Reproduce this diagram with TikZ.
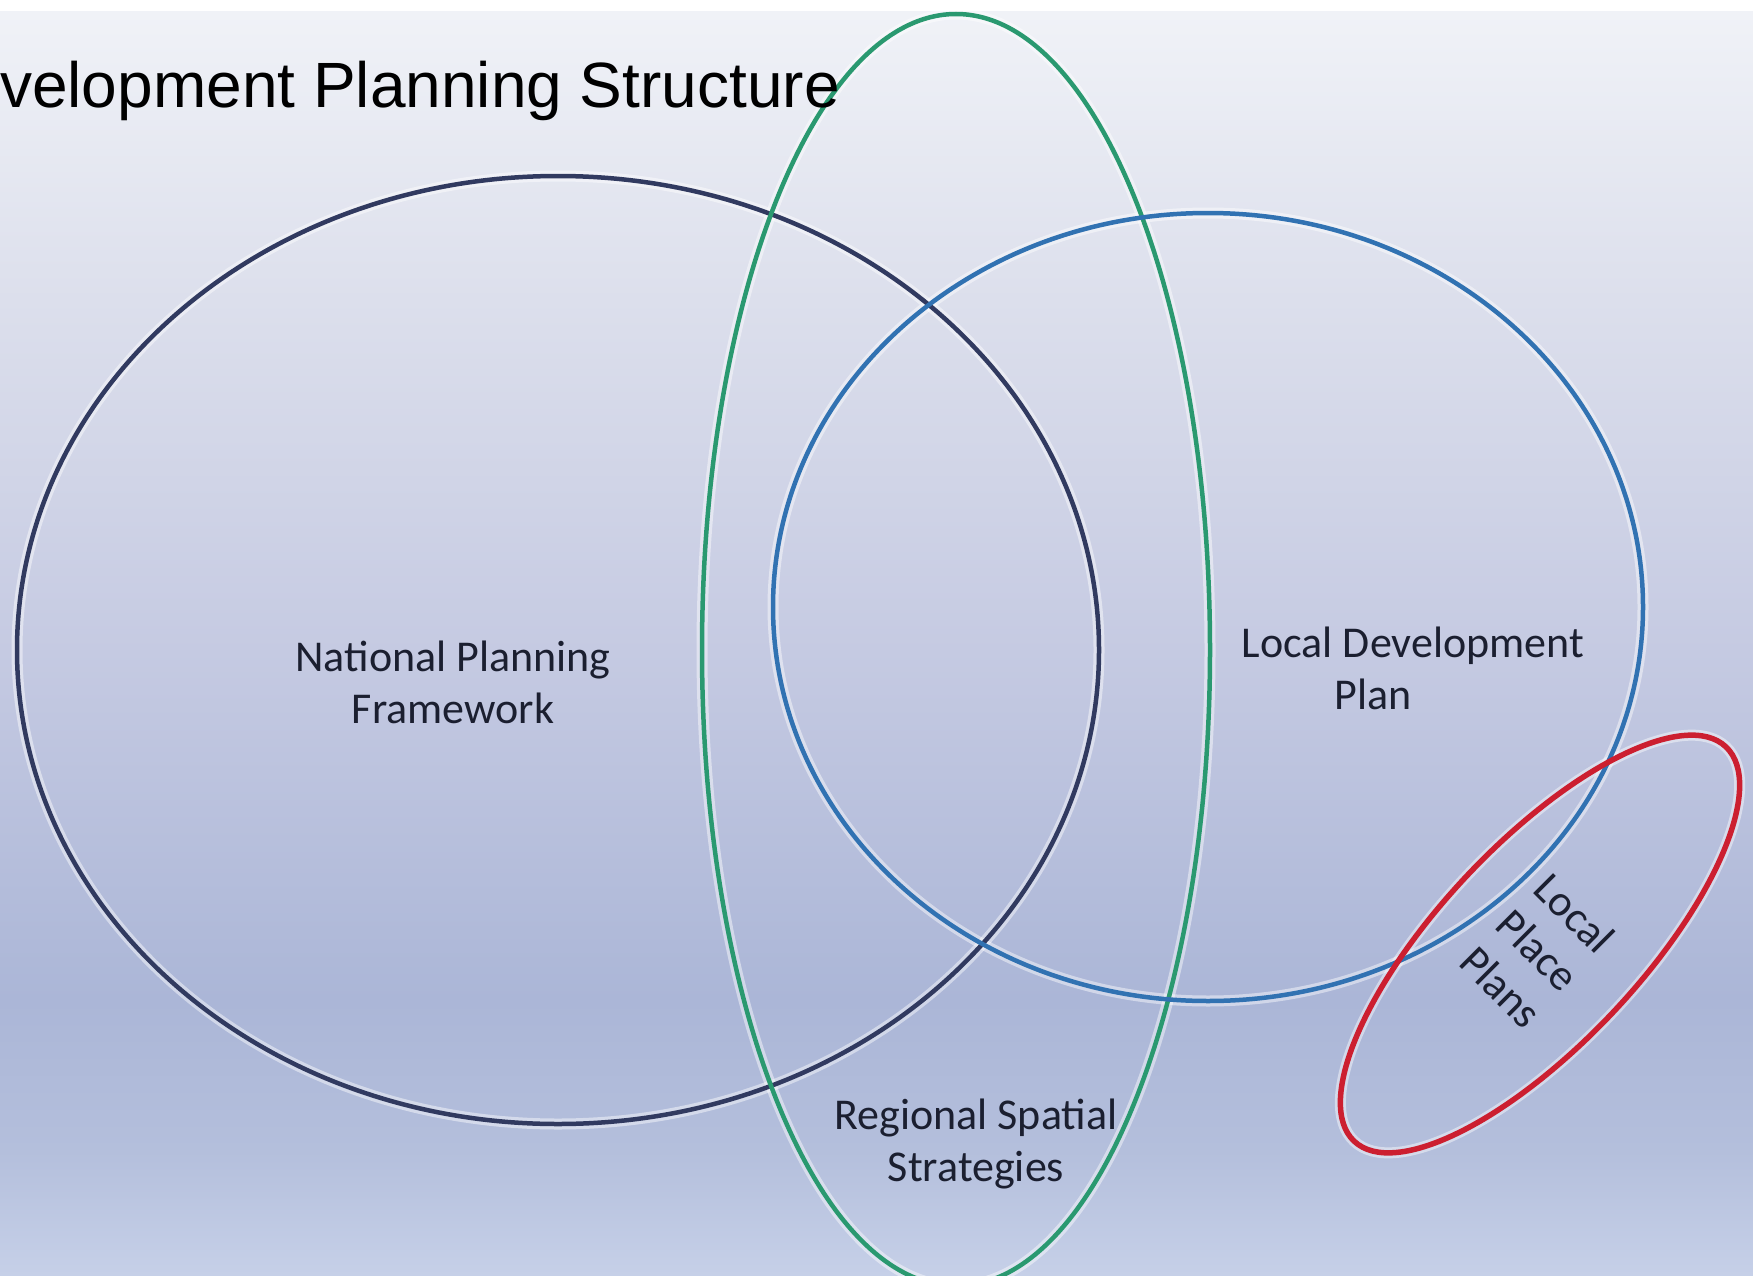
\documentclass[tikz,border=0pt]{standalone}
\usepackage{fontspec}
\setmainfont{Carlito}
\newfontfamily\titlefont{Liberation Sans}
\definecolor{bgA}{HTML}{C6D0E8}
\definecolor{bgB}{HTML}{B4BFDC}
\definecolor{bgC}{HTML}{ABB6D7}
\definecolor{bgD}{HTML}{C5CAE2}
\definecolor{bgE}{HTML}{DCDFEC}
\definecolor{bgF}{HTML}{F0F2F7}
\definecolor{navyline}{HTML}{313A60}
\definecolor{greenline}{HTML}{2A9970}
\definecolor{blueline}{HTML}{3172B2}
\definecolor{redline}{HTML}{CC1F30}
\definecolor{labelcol}{HTML}{1B1F30}
\pgfdeclareverticalshading{bgshade}{100bp}{color(0bp)=(bgA); color(25bp)=(bgA); color(29.9bp)=(bgB); color(35.9bp)=(bgC); color(49.7bp)=(bgD); color(63.6bp)=(bgE); color(75bp)=(bgF); color(100bp)=(bgF)}
\tikzset{
  halo/.style={draw=white, opacity=0.45, line width=11pt},
  ring/.style={line width=4.5pt},
  lbl/.style={font=\fontsize{44}{52}\selectfont, text=labelcol, align=center, inner sep=0pt},
}
\begin{document}
\begin{tikzpicture}[x=1pt,y=-1pt]
\path[use as bounding box] (0,0) rectangle (1753,1279);
\fill[white] (0,0) rectangle (1753,1279);
\shade[shading=bgshade] (0,12) rectangle (1753,1275);
\begin{scope}
\clip (0,12) rectangle (1753,1275);
% halos
\draw[halo] (558,650) ellipse [x radius=541pt, y radius=474pt];
\draw[halo] (956,650) ellipse [x radius=254pt, y radius=636pt];
\draw[halo] (1208,607) ellipse [x radius=435pt, y radius=394pt];
\draw[halo, rotate around={46.7:(1540,944)}] (1540,944) ellipse [x radius=271pt, y radius=100pt];
% rings
\draw[ring, navyline] (558,650) ellipse [x radius=541pt, y radius=474pt];
\draw[ring, greenline] (956,650) ellipse [x radius=254pt, y radius=636pt];
\draw[ring, blueline] (1208,607) ellipse [x radius=435pt, y radius=394pt];
\draw[ring, redline, line width=5.5pt, rotate around={46.7:(1540,944)}] (1540,944) ellipse [x radius=271pt, y radius=100pt];
\end{scope}
\node[anchor=base west, inner sep=0pt, font=\titlefont\fontsize{64}{77}\selectfont] (title) at (0,108) {velopment Planning Structure};
\node[lbl] (npf) at (453,682) {National Planning\\Framework};
\node[lbl] (ldp) at (1413,668) {Local Development\\Plan\hspace*{80pt}};
\node[lbl] (rss) at (976,1144) {Regional Spatial\\Strategies};
\node[lbl, rotate=-45, font=\fontsize{44}{52}\selectfont] (lpp) at (1538,950) {Local\\Place\\Plans};
\end{tikzpicture}
\end{document}
